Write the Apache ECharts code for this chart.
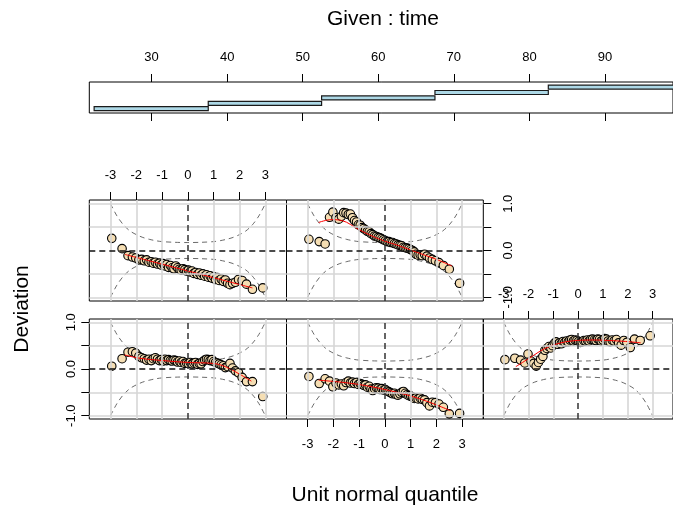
<!DOCTYPE html>
<html><head><meta charset="utf-8">
<script src="https://cdn.jsdelivr.net/npm/echarts@6/dist/echarts.min.js"></script>
<style>html,body{margin:0;padding:0;background:#fff}#c{width:673px;height:510px}</style>
</head><body><div id="c"></div>
<script>
// ---------- data ----------
const quantiles = [-2.95,-2.55,-2.32,-2.15,-2.02,-1.90,-1.79,-1.69,-1.60,-1.51,-1.42,-1.34,-1.26,-1.18,-1.10,-1.03,-0.96,-0.89,-0.82,-0.75,-0.68,-0.61,-0.54,-0.47,-0.40,-0.33,-0.26,-0.19,-0.12,-0.05,0.02,0.09,0.16,0.23,0.30,0.37,0.44,0.51,0.58,0.65,0.72,0.79,0.86,0.93,1.00,1.07,1.14,1.21,1.29,1.37,1.45,1.54,1.63,1.73,1.84,1.96,2.10,2.27,2.50,2.90];
const devInt1 = [0.06,0.22,0.36,0.37,0.34,0.27,0.24,0.22,0.19,0.21,0.18,0.22,0.24,0.21,0.18,0.20,0.17,0.21,0.18,0.20,0.18,0.17,0.19,0.18,0.15,0.17,0.14,0.16,0.12,0.13,0.12,0.14,0.11,0.13,0.14,0.10,0.12,0.11,0.16,0.19,0.21,0.20,0.18,0.20,0.16,0.14,0.13,0.11,0.09,0.07,0.03,0.05,0.12,0.02,-0.04,-0.08,-0.18,-0.27,-0.27,-0.59];
const devInt2 = [-0.16,-0.31,-0.21,-0.26,-0.38,-0.30,-0.34,-0.32,-0.36,-0.29,-0.26,-0.30,-0.28,-0.31,-0.29,-0.33,-0.31,-0.33,-0.35,-0.34,-0.39,-0.37,-0.43,-0.46,-0.42,-0.40,-0.41,-0.44,-0.42,-0.45,-0.44,-0.47,-0.49,-0.51,-0.53,-0.52,-0.55,-0.56,-0.53,-0.50,-0.48,-0.52,-0.55,-0.57,-0.58,-0.60,-0.63,-0.62,-0.64,-0.62,-0.65,-0.66,-0.72,-0.79,-0.71,-0.72,-0.75,-0.82,-0.96,-0.95];
const devInt3 = [0.20,0.23,0.19,0.13,0.32,0.17,0.12,0.06,0.14,0.21,0.27,0.40,0.44,0.48,0.45,0.50,0.55,0.58,0.53,0.56,0.54,0.59,0.57,0.60,0.58,0.62,0.63,0.60,0.62,0.61,0.59,0.57,0.58,0.61,0.60,0.62,0.60,0.63,0.64,0.62,0.61,0.64,0.63,0.60,0.62,0.65,0.64,0.60,0.58,0.62,0.60,0.63,0.56,0.51,0.61,0.57,0.46,0.64,0.61,0.71];
const devInt4 = [0.26,0.04,-0.11,-0.14,-0.16,-0.20,-0.19,-0.22,-0.20,-0.25,-0.24,-0.27,-0.25,-0.29,-0.27,-0.31,-0.28,-0.33,-0.30,-0.36,-0.32,-0.37,-0.39,-0.33,-0.37,-0.40,-0.42,-0.39,-0.41,-0.44,-0.42,-0.46,-0.44,-0.49,-0.47,-0.51,-0.48,-0.53,-0.50,-0.55,-0.52,-0.57,-0.54,-0.59,-0.56,-0.62,-0.58,-0.64,-0.61,-0.66,-0.63,-0.70,-0.73,-0.70,-0.68,-0.62,-0.64,-0.72,-0.83,-0.80];
const devInt5 = [0.24,0.19,0.14,0.71,0.82,0.70,0.67,0.73,0.81,0.80,0.77,0.78,0.70,0.64,0.61,0.55,0.54,0.49,0.47,0.44,0.41,0.40,0.36,0.34,0.31,0.30,0.28,0.27,0.25,0.23,0.21,0.19,0.19,0.17,0.17,0.15,0.14,0.12,0.11,0.10,0.07,0.06,0.05,0.04,0.02,0.00,-0.03,-0.08,-0.10,-0.09,-0.11,-0.08,-0.12,-0.16,-0.19,-0.22,-0.26,-0.32,-0.40,-0.70];

const fitX1 = [-2.45,-1.86,-0.96,0,0.97,1.49,2.0,2.46];
const fitY1 = [0.30,0.23,0.18,0.14,0.12,0.04,-0.11,-0.26];
const fitX2 = [-2.57,-1.28,0,1.31,2.54];
const fitY2 = [-0.24,-0.31,-0.44,-0.63,-0.89];
const fitX3 = [-2.51,-1.97,-1.33,-0.69,-0.04,0.6,1.24,1.9,2.52];
const fitY3 = [0.05,0.23,0.44,0.56,0.61,0.62,0.61,0.59,0.56];
const fitX4 = [-2.44,-1.5,-0.5,0.5,1.5,2.5];
const fitY4 = [-0.084,-0.22,-0.365,-0.51,-0.655,-0.80];
const fitX5 = [-2.57,-2.06,-1.67,-1.02,-0.5,0,0.5,1.05,1.5,2.0,2.6];
const fitY5 = [0.60,0.66,0.64,0.45,0.31,0.20,0.11,0.0,-0.09,-0.19,-0.33];

const bandZ     = [-3,-2.75,-2.5,-2.25,-2,-1.75,-1.5,-1.25,-1,-0.5,0,0.5,1,1.25,1.5,1.75,2,2.25,2.5,2.75,3];
const bandUpper = [1.0,0.74,0.55,0.42,0.34,0.28,0.24,0.21,0.19,0.175,0.17,0.175,0.19,0.21,0.24,0.28,0.34,0.42,0.55,0.74,1.0];
const bandLower = [-1.0,-0.74,-0.55,-0.42,-0.34,-0.28,-0.24,-0.21,-0.19,-0.175,-0.17,-0.175,-0.19,-0.21,-0.24,-0.28,-0.34,-0.42,-0.55,-0.74,-1.0];

const intervalStart = [22.4,37.5,52.5,67.5,82.5];
const intervalEnd   = [37.5,52.5,67.5,82.5,99.5];
const timeTicks = [30,40,50,60,70,80,90];
const xTicks = [-3,-2,-1,0,1,2,3];
const yTicks = [-1,-0.5,0,0.5,1];
const yLabels = [-1,0,1];
const gridX = [-3,-2,-1,1,2,3];
const gridY = [-1,-0.5,0.5,1];

// ---------- chart ----------
const FONT = '"Liberation Sans", Arial, Helvetica, sans-serif';
const TICKFS = 13;
const zip = (a,b) => a.map((v,i)=>[v,b[i]]);
const chart = echarts.init(document.getElementById('c'), null, {renderer:'canvas'});

const panels = [
  {left:89.3,  top:319, width:197.2, height:100, ymin:-1.07, ymax:1.07, dev:devInt1, fx:fitX1, fy:fitY1, xpos:null,     ypos:'left'},
  {left:286.5, top:319, width:196.8, height:100, ymin:-1.07, ymax:1.07, dev:devInt2, fx:fitX2, fy:fitY2, xpos:'bottom', ypos:null},
  {left:483.3, top:319, width:197,   height:100, ymin:-1.07, ymax:1.07, dev:devInt3, fx:fitX3, fy:fitY3, xpos:'top',    ypos:null},
  {left:89.3,  top:200, width:197.2, height:101, ymin:-1.08, ymax:1.08, dev:devInt4, fx:fitX4, fy:fitY4, xpos:'top',    ypos:null},
  {left:286.5, top:200, width:196.8, height:101, ymin:-1.08, ymax:1.08, dev:devInt5, fx:fitX5, fy:fitY5, xpos:null,     ypos:'right'}
];

const grids = [{left:89.3, top:82, width:590.7, height:31, show:true, borderColor:'#000', borderWidth:1, containLabel:false}];
const xAxes = [
  {type:'value', gridIndex:0, min:21.76, max:99.0, position:'top',
   axisLine:{show:false, onZero:false}, splitLine:{show:false},
   axisTick:{show:true, inside:false, length:8, lineStyle:{color:'#000',width:1}, customValues:timeTicks},
   axisLabel:{show:true, customValues:timeTicks, margin:18, fontSize:TICKFS, color:'#000', fontFamily:FONT}},
  {type:'value', gridIndex:0, min:21.76, max:99.0, position:'bottom',
   axisLine:{show:false, onZero:false}, splitLine:{show:false},
   axisTick:{show:true, inside:false, length:8, lineStyle:{color:'#000',width:1}, customValues:timeTicks},
   axisLabel:{show:false}}
];
const yAxes = [{type:'value', gridIndex:0, min:0.2, max:5.94, show:false}];
const series = [{
  type:'custom', xAxisIndex:0, yAxisIndex:0, clip:true,
  data: intervalStart.map((s,i)=>[s, intervalEnd[i], i+1]),
  encode:{x:[0,1], y:2},
  renderItem:(params, api)=>{
    const p0 = api.coord([api.value(0), api.value(2)+0.37]);
    const p1 = api.coord([api.value(1), api.value(2)-0.37]);
    return {type:'rect', shape:{x:p0[0], y:p0[1], width:p1[0]-p0[0], height:p1[1]-p0[1]},
            style:{fill:'#ADD8E6', stroke:'#1a1a1a', lineWidth:1.2}};
  }
}];

panels.forEach((p, k) => {
  const gi = k + 1;
  grids.push({left:p.left, top:p.top, width:p.width, height:p.height, show:true, borderColor:'#000', borderWidth:1});
  xAxes.push({type:'value', gridIndex:gi, min:-3.82, max:3.82, position:p.xpos || 'bottom',
    axisLine:{show:false, onZero:false}, splitLine:{show:false},
    axisTick:{show:!!p.xpos, inside:false, length:8, lineStyle:{color:'#000',width:1}, customValues:xTicks},
    axisLabel:{show:!!p.xpos, customValues:xTicks, margin:p.xpos==='top'?18:19, fontSize:TICKFS, color:'#000', fontFamily:FONT}});
  yAxes.push({type:'value', gridIndex:gi, min:p.ymin, max:p.ymax, position:p.ypos || 'left',
    axisLine:{show:false, onZero:false}, splitLine:{show:false},
    axisTick:{show:!!p.ypos, inside:false, length:8, lineStyle:{color:'#000',width:1}, customValues:yTicks},
    axisLabel:{show:!!p.ypos, customValues:yLabels, rotate:90, margin:p.ypos==='left'?11:19, fontSize:TICKFS, color:'#000', fontFamily:FONT,
               formatter:v=>Number(v).toFixed(1)}});
  const xi = gi + 1, yi = gi;
  const gridLines = [];
  gridX.forEach(v=>gridLines.push({xAxis:v, lineStyle:{color:'#D6D6D6', width:1.6, type:'solid'}}));
  gridY.forEach(v=>gridLines.push({yAxis:v, lineStyle:{color:'#D6D6D6', width:1.6, type:'solid'}}));
  gridLines.push({xAxis:0, lineStyle:{color:'#333', width:1.5, type:[6,4]}});
  gridLines.push({yAxis:0, lineStyle:{color:'#111', width:1.6, type:[6,4]}});
  series.push({type:'line', xAxisIndex:xi, yAxisIndex:yi, z:1, data:zip(bandZ, bandUpper), smooth:0.3,
    showSymbol:false, silent:true, clip:true, lineStyle:{color:'#444', width:0.8, type:[5,4]},
    markLine:{silent:true, symbol:['none','none'], label:{show:false}, animation:false, data:gridLines}});
  series.push({type:'line', xAxisIndex:xi, yAxisIndex:yi, z:2, data:zip(bandZ, bandLower), smooth:0.3,
    showSymbol:false, silent:true, clip:true, lineStyle:{color:'#444', width:0.8, type:[5,4]}});
  series.push({type:'scatter', xAxisIndex:xi, yAxisIndex:yi, z:3, data:zip(quantiles, p.dev),
    symbol:'circle', symbolSize:8.5, silent:true,
    itemStyle:{color:'#F5DEB3', borderColor:'#000', borderWidth:1.1, opacity:1}});
  series.push({type:'line', xAxisIndex:xi, yAxisIndex:yi, z:4, data:zip(p.fx, p.fy), smooth:0.4,
    showSymbol:false, silent:true, lineStyle:{color:'#FF0000', width:1}});
});

chart.setOption({
  animation:false,
  backgroundColor:'#fff',
  grid:grids, xAxis:xAxes, yAxis:yAxes, series:series,
  graphic:[
    {type:'text', x:383, y:19, style:{text:'Given : time', font:'21px '+FONT, fill:'#000', textAlign:'center', textVerticalAlign:'middle'}},
    {type:'text', x:385, y:495, style:{text:'Unit normal quantile', font:'21px '+FONT, fill:'#000', textAlign:'center', textVerticalAlign:'middle'}},
    {type:'text', x:22, y:309, rotation:Math.PI/2, style:{text:'Deviation', font:'21px '+FONT, fill:'#000', textAlign:'center', textVerticalAlign:'middle'}}
  ]
});
</script>
</body></html>
